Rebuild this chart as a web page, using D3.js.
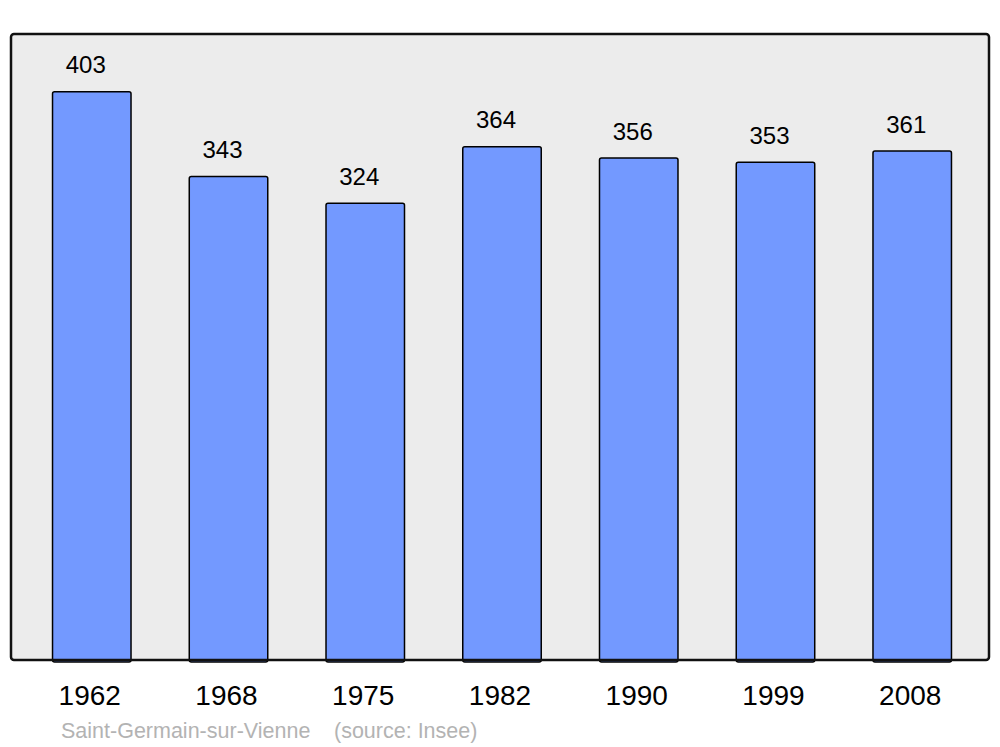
<!DOCTYPE html>
<html>
<head>
<meta charset="utf-8">
<script src="https://cdn.jsdelivr.net/npm/d3@7"></script>
<style>
  body { margin: 0; background: #fff; }
  text { font-family: "Liberation Sans", Arial, sans-serif; }
</style>
</head>
<body>
<svg id="chart" width="1000" height="747"></svg>
<script>
const years = ["1962", "1968", "1975", "1982", "1990", "1999", "2008"];
const population = [403, 343, 324, 364, 356, 353, 361];
const place = "Saint-Germain-sur-Vienne";
const source = "(source: Insee)";

const width = 1000;
const height = 747;
const panel = {left: 11, top: 34, right: 989, bottom: 660};

const svg = d3.select('#chart');

const x = d3.scaleBand()
  .domain(years)
  .range([23.4, 980.6])
  .paddingInner(0.426)
  .paddingOuter(0.213);

const y = d3.scaleLinear([0, 444], [panel.bottom, panel.top]);

// background panel
svg.append('rect')
  .attr('x', panel.left).attr('y', panel.top)
  .attr('width', panel.right - panel.left)
  .attr('height', panel.bottom - panel.top)
  .attr('rx', 3)
  .attr('fill', '#ececec');

// bars
svg.append('g').attr('id', 'bars')
  .selectAll('rect')
  .data(population)
  .join('rect')
    .attr('x', (d, i) => x(years[i]))
    .attr('y', d => y(d))
    .attr('width', x.bandwidth())
    .attr('height', d => y(0) - y(d) + 2)
    .attr('rx', 2)
    .attr('fill', '#7399ff')
    .attr('stroke', '#000')
    .attr('stroke-width', 1.5);

// panel border on top
svg.append('rect')
  .attr('x', panel.left).attr('y', panel.top)
  .attr('width', panel.right - panel.left)
  .attr('height', panel.bottom - panel.top)
  .attr('rx', 3)
  .attr('fill', 'none')
  .attr('stroke', '#111')
  .attr('stroke-width', 2.5);

// value labels
svg.append('g').attr('id', 'values')
  .selectAll('text')
  .data(population)
  .join('text')
    .attr('x', (d, i) => x(years[i]) + x.bandwidth() / 2 - 6)
    .attr('y', d => y(d) - 18.5)
    .attr('text-anchor', 'middle')
    .attr('font-size', '24px')
    .attr('fill', '#000')
    .text(d => d);

// year labels
svg.append('g').attr('id', 'years')
  .selectAll('text')
  .data(years)
  .join('text')
    .attr('x', d => x(d) + x.bandwidth() / 2 - 2)
    .attr('y', 705)
    .attr('text-anchor', 'middle')
    .attr('font-size', '28px')
    .attr('fill', '#000')
    .text(d => d);

// caption
svg.append('text')
  .attr('x', 61).attr('y', 737.5)
  .attr('font-size', '21.5px')
  .attr('fill', '#b3b3b3')
  .text(place);
svg.append('text')
  .attr('x', 334).attr('y', 737.5)
  .attr('font-size', '21.5px')
  .attr('fill', '#b3b3b3')
  .text(source);
</script>
</body>
</html>
